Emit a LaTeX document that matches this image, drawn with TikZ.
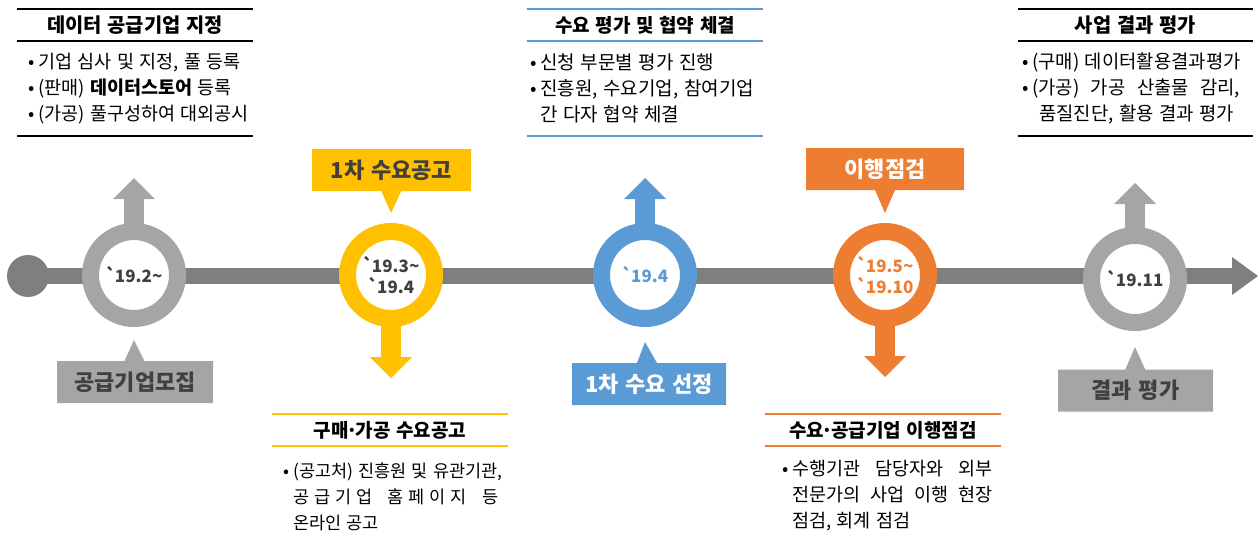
\documentclass[tikz,border=0pt]{standalone}
\usepackage{fontspec}
\setmainfont{Noto Sans CJK KR}[WordSpace=1.3]
\newfontfamily\datefont{Noto Sans CJK KR}
\usetikzlibrary{arrows.meta,shapes.callouts}

\definecolor{barGray}{HTML}{7F7F7F}
\definecolor{ringGray}{HTML}{A5A5A5}
\definecolor{ringYellow}{HTML}{FFC000}
\definecolor{ringBlue}{HTML}{5B9BD5}
\definecolor{ringOrange}{HTML}{ED7D31}
\definecolor{txtDark}{HTML}{404040}

\newcommand{\bul}{\makebox[10pt][l]{•}}
\newcommand{\ind}{\hspace*{10pt}}
\newcommand{\yr}{`\kern-1.5pt}
\newcommand{\mdot}{\makebox[7pt]{·}}

\pgfdeclarelayer{bg}
\pgfsetlayers{bg,main}

\tikzset{
    ring/.style={circle, draw=#1, line width=17pt, fill=white, minimum size=87pt,
        inner sep=0pt, align=center, text=txtDark,
        font=\datefont\bfseries\fontsize{17}{21}\selectfont},
    blockarrow/.style={draw=#1, line width=20pt,
        -{Triangle[length=21pt,width=42pt,line width=0pt]}},
    tag/.style={rectangle callout, fill=#1, callout pointer width=20pt,
        minimum height=42pt, inner sep=0pt, text=txtDark,
        font=\bfseries\fontsize{22}{26}\selectfont},
    boxtitle/.style={minimum width=235pt, minimum height=32pt, inner sep=0pt,
        font=\bfseries\fontsize{19}{22}\selectfont},
    boxbody/.style={anchor=west, inner sep=0pt, align=left,
        font=\fontsize{#1}{26}\selectfont},
    boxframe/.style={minimum width=235pt, minimum height=127pt, inner sep=0pt},
    rule/.style={draw=#1, line width=2pt}
}

\begin{document}
\begin{tikzpicture}[x=1pt,y=-1pt]
            \tikzstyle{every node}=[font=\fontsize{18}{26}\selectfont]
            \useasboundingbox (0,0) rectangle (1258,541);

            % timeline
            \node[circle, fill=barGray, minimum size=42pt, inner sep=0pt] (dot) at (28,276) {};
            \coordinate (tl-end) at (1258,276);

            % stages
            \node[ring=ringGray] (c1) at (134,275) {\yr19.2\textasciitilde};
            \node[ring=ringYellow] (c2) at (391,275) {\yr19.3\textasciitilde\\\yr19.4};
            \node[ring=ringBlue, text=ringBlue] (c3) at (645,275) {\yr19.4};
            \node[ring=ringOrange, text=ringOrange] (c4) at (885,275) {\yr19.5\textasciitilde\\\yr19.10};
            \node[ring=ringGray] (c5) at (1135,279) {\yr19.11};

            \coordinate (a1) at (134,178);
            \coordinate (a2) at (391,378);
            \coordinate (a3) at (645,178);
            \coordinate (a4) at (885,377);
            \coordinate (a5) at (1135,183);

            \begin{pgfonlayer}{bg}
                \draw[line width=16pt, barGray, -{Triangle[length=26pt,width=38pt,line width=0pt]}] (dot.center) -- (tl-end);
                \draw[blockarrow=ringGray] (c1.center) -- (a1);
                \draw[blockarrow=ringYellow] (c2.center) -- (a2);
                \draw[blockarrow=ringBlue] (c3.center) -- (a3);
                \draw[blockarrow=ringOrange] (c4.center) -- (a4);
                \draw[blockarrow=ringGray] (c5.center) -- (a5);
            \end{pgfonlayer}

            % tags
            \coordinate (p1) at (134,340);
            \coordinate (p2) at (391,213);
            \coordinate (p3) at (645,342);
            \coordinate (p4) at (885,213);
            \coordinate (p5) at (1135,347);
            \node[tag=ringGray, minimum width=156pt, callout absolute pointer={(p1)}] (k1) at (135,382) {공급기업모집};
            \node[tag=ringYellow, minimum width=159pt, callout absolute pointer={(p2)}] (k2) at (391.5,170) {1차 수요공고};
            \node[tag=ringBlue, minimum width=154pt, text=white, callout absolute pointer={(p3)}] (k3) at (649,384) {1차 수요 선정};
            \node[tag=ringOrange, minimum width=158pt, text=white, callout absolute pointer={(p4)}] (k4) at (885,169) {이행점검};
            \node[tag=ringGray, minimum width=155pt, callout absolute pointer={(p5)}] (k5) at (1135.5,390.5) {결과 평가};

            % box 1
            \node[boxframe] (f1) at (135,72.5) {};
            \node[boxtitle, font=\bfseries\fontsize{19.8}{22}\selectfont] (t1) at (135,25) {데이터 공급기업 지정};
            \node[boxbody=18.5] (b1) at (28,89) {\bul 기업 심사 및 지정, 풀 등록\\
                \bul (판매) \textbf{데이터스토어} 등록\\
                \bul (가공) 풀구성하여 대외공시};
            \draw[rule=black] (f1.north west) -- (f1.north east) (t1.south west) -- (t1.south east)
                (f1.south west) -- (f1.south east);

            % box 2
            \node[boxframe] (f2) at (645,72.5) {};
            \node[boxtitle] (t2) at (645,25) {수요 평가 및 협약 체결};
            \node[boxbody=19] (b2) at (530,88) {\bul 신청 부문별 평가 진행\\
                \bul 진흥원, 수요기업, 참여기업\\
                \ind 간 다자 협약 체결};
            \draw[rule=ringBlue] (f2.north west) -- (f2.north east) (t2.south west) -- (t2.south east)
                (f2.south west) -- (f2.south east);

            % box 3
            \node[boxframe] (f3) at (1135.5,72.5) {};
            \node[boxtitle, font=\bfseries\fontsize{19.8}{22}\selectfont] (t3) at (1135.5,25) {사업 결과 평가};
            \node[boxbody=18.8] (b3) at (1022,88) {\bul (구매) 데이터활용결과평가\\
                \bul\makebox[208pt][l]{(가공)\hfill 가공\hfill 산출물\hfill 감리,}\\
                \hspace*{17pt}품질진단, 활용 결과 평가};
            \draw[rule=black] (f3.north west) -- (f3.north east) (t3.south west) -- (t3.south east)
                (f3.south west) -- (f3.south east);

            % box 4
            \node[boxtitle] (t4) at (390,430) {구매\mdot 가공 수요공고};
            \node[boxbody=17.5] (b4) at (283,497) {\bul (공고처) 진흥원 및 유관기관,\\
                \ind\makebox[205pt][l]{공\hfill 급\hfill 기\hfill 업\hfill\ \hfill 홈\hfill 페\hfill 이\hfill 지\hfill\ \hfill 등}\\
                \ind 온라인 공고};
            \draw[rule=ringYellow] (t4.north west) -- (t4.north east) (t4.south west) -- (t4.south east);

            % box 5
            \node[boxtitle] (t5) at (883,430) {수요\mdot 공급기업 이행점검};
            \node[boxbody=18.5] (b5) at (782,496) {\bul\makebox[200pt][l]{수행기관\hfill 담당자와\hfill 외부}\\
                \ind\makebox[200pt][l]{전문가의\hfill 사업\hfill 이행\hfill 현장}\\
                \ind 점검, 회계 점검};
            \draw[rule=ringOrange] (t5.north west) -- (t5.north east) (t5.south west) -- (t5.south east);
        \end{tikzpicture}
\end{document}
